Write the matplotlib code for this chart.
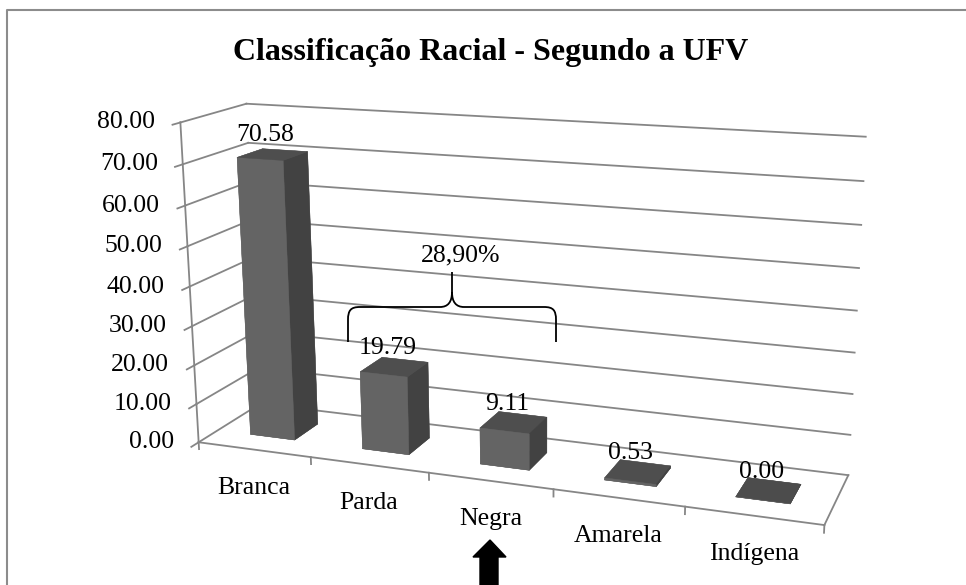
import numpy as np
import matplotlib
matplotlib.use("Agg")
import matplotlib.pyplot as plt
from matplotlib.path import Path
from matplotlib.patches import PathPatch, Polygon
import matplotlib.transforms as mtransforms

plt.rcParams['font.family'] = ['Liberation Serif', 'DejaVu Serif']

# ---------------- data ----------------
categories = ["Branca", "Parda", "Negra", "Amarela", "Indígena"]
values = [70.58, 19.79, 9.11, 0.53, 0.00]
value_labels = ["70.58", "19.79", "9.11", "0.53", "0.00"]
yticks = [0, 10, 20, 30, 40, 50, 60, 70, 80]
ytick_labels = ["0.00", "10.00", "20.00", "30.00", "40.00", "50.00", "60.00", "70.00", "80.00"]
title = "Classificação Racial - Segundo a UFV"
brace_label = "28,90%"

# ---------------- figure / 3D view ----------------
W, H = 966, 585
fig = plt.figure(figsize=(W / 100, H / 100), dpi=100)
nc = len(categories)
zmax = yticks[-1]

# camera calibrated to the reference perspective
elev, azim, roll, focal = 15.1153, -69.6181, 0.2651, 0.4187
box = (1.0, 0.2035, 0.5151)
cx, cy, s = 503.26, 276.89, 733.35          # axes centre / size in pixels
ax = fig.add_axes([(cx - s / 2) / W, (cy - s / 2) / H, s / W, s / H], projection='3d')
ax.view_init(elev, azim, roll)
ax.set_proj_type('persp', focal_length=focal)
ax.set_box_aspect(box)
ax.set_axis_off()
ax.patch.set_alpha(0)
ax.computed_zorder = False

gc = '#868686'
glw = 1.3
# walls: side wall (x=0) and back wall (y=1) gridlines, value ticks
for v in yticks:
    ax.plot([0, 0], [0, 1], [v, v], color=gc, lw=glw, zorder=1)
    ax.plot([0, nc], [1, 1], [v, v], color=gc, lw=glw, zorder=1)
    ax.plot([0, 0], [0, -0.11], [v, v], color=gc, lw=glw, zorder=1)
# value axis line, floor front and right edges
ax.plot([0, 0], [0, 0], [0, zmax], color=gc, lw=glw, zorder=1)
ax.plot([0, nc], [0, 0], [0, 0], color=gc, lw=glw, zorder=1)
ax.plot([nc, nc], [0, 1], [0, 0], color=gc, lw=glw, zorder=1)
for i in range(nc + 1):
    ax.plot([i, i], [0, 0], [0, -1.8], color=gc, lw=glw, zorder=1)

# bars: faces -z, +z, -y, +y, -x, +x
face = ['#4c4c4c', '#4e4e4e', '#646464', '#646464', '#646464', '#424242']
xs = np.arange(nc) + 0.3
ax.bar3d(xs, np.full(nc, 0.3), np.zeros(nc), 0.4, 0.4, values,
         color=face * nc, edgecolor=face * nc, linewidth=0.3, shade=False, zorder=3)

ax.set_xlim(0, nc); ax.set_ylim(0, 1); ax.set_zlim(0, zmax)

# 2D projection of 3D anchor points via the axes' own projection matrix
M = ax.get_proj()
def p2(x, y, z):
    v = M @ np.array([x, y, z, 1.0])
    return v[0] / v[3], v[1] / v[3]

fs = 18.5
def off(dx, dy):
    return mtransforms.offset_copy(ax.transData, fig=fig, x=dx, y=dy, units='dots')

for i, (v, lab) in enumerate(zip(values, value_labels)):
    px, py = p2(i + 0.5, 0.5, v)
    ax.text2D(px, py, lab, ha='center', va='center', fontsize=fs, zorder=6,
              transform=off(-7, 19))
for i, lab in enumerate(categories):
    px, py = p2(i + 0.5, 0, 0)
    ax.text2D(px, py, lab, ha='center', va='center', fontsize=fs, zorder=6,
              transform=off(0, -38))
for v, lab in zip(yticks, ytick_labels):
    px, py = p2(0, 0, v)
    ax.text2D(px, py, lab, ha='right', va='center', fontsize=fs, zorder=6,
              transform=off(-25, 0))

# ---------------- 2D overlay: frame, title, brace, arrow ----------------
ov = fig.add_axes([0, 0, 1, 1], zorder=10)
ov.set_xlim(0, W); ov.set_ylim(H, 0); ov.axis('off'); ov.patch.set_alpha(0)
ov.plot([7, 7, W + 10], [H + 10, 10, 10], color='#8c8c8c', lw=1.5)
ov.text(490.5, 60, title, ha='center', va='baseline', fontsize=23, fontweight='bold')
verts = [(348, 342), (348, 320), (348, 310), (351, 307), (360, 307), (440, 307),
         (448, 307), (452, 302), (452, 292), (452, 272),
         (452, 292), (452, 302), (456, 307), (464, 307), (544, 307),
         (553, 307), (556, 310), (556, 320), (556, 342)]
codes = [Path.MOVETO, Path.LINETO, Path.CURVE4, Path.CURVE4, Path.CURVE4, Path.LINETO,
         Path.CURVE4, Path.CURVE4, Path.CURVE4, Path.LINETO,
         Path.MOVETO, Path.CURVE4, Path.CURVE4, Path.CURVE4, Path.LINETO,
         Path.CURVE4, Path.CURVE4, Path.CURVE4, Path.LINETO]
ov.add_patch(PathPatch(Path(verts, codes), fill=False, color='black', lw=1.3))
ov.text(461, 255, brace_label, ha='center', va='center', fontsize=fs)
ov.add_patch(Polygon([(490, 540), (506, 557), (498, 557), (498, 595), (480, 595),
                      (480, 557), (473, 557)], closed=True, color='black'))

fig.savefig("out.png", dpi=100)
